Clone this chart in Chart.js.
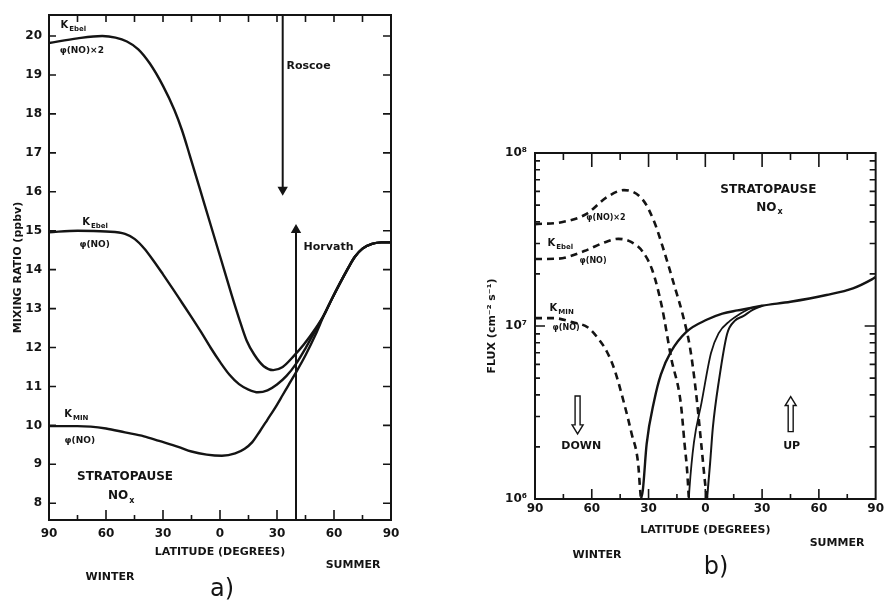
<!DOCTYPE html>
<html>
<head>
<meta charset="utf-8">
<script src="https://cdn.jsdelivr.net/npm/chart.js@4.4.1/dist/chart.umd.min.js"></script>
<style>
  body { margin: 0; background: #fff; width: 887px; height: 604px; position: relative; overflow: hidden; }
  canvas { position: absolute; top: 0; }
  #chartA { left: 0; }
  #chartB { left: 440px; }
</style>
</head>
<body>
<canvas id="chartA" width="430" height="604"></canvas>
<canvas id="chartB" width="447" height="604"></canvas>
<script>
// Latitude runs from 90 winter (-90) through equator (0) to 90 summer (+90)
const latTicks = [-90, -60, -30, 0, 30, 60, 90];

// ---- panel a: NO mixing ratio (ppbv) at the stratopause
const mixTicks = [8, 9, 10, 11, 12, 13, 14, 15, 16, 17, 18, 19, 20];
const latEbel2A = [-90, -75, -62, -55, -49, -43, -37, -30, -24, -20, -16, -8, 0, 6, 10, 14, 18, 23, 28, 33, 39, 44, 50, 55, 59, 67, 71, 75, 80, 85, 90];
const mixEbel2A = [19.82, 19.94, 20.0, 19.96, 19.86, 19.66, 19.3, 18.72, 18.1, 17.58, 16.95, 15.65, 14.35, 13.37, 12.75, 12.18, 11.82, 11.52, 11.42, 11.5, 11.79, 12.07, 12.47, 12.86, 13.26, 14.0, 14.33, 14.54, 14.66, 14.7, 14.7];
const latEbelA = [-90, -75, -60, -50, -45, -40, -35, -30, -25, -20, -15, -10, -5, 0, 5, 10, 15, 20, 25, 30, 35, 40, 45, 50, 55, 59, 67, 71, 75, 80, 85, 90];
const mixEbelA = [14.96, 15.0, 14.98, 14.92, 14.79, 14.55, 14.23, 13.88, 13.52, 13.15, 12.78, 12.4, 12.0, 11.63, 11.3, 11.06, 10.92, 10.85, 10.9, 11.05, 11.27, 11.58, 11.98, 12.42, 12.86, 13.26, 14.0, 14.33, 14.54, 14.66, 14.7, 14.7];
const latMinA = [-90, -75, -60, -50, -40, -32, -22, -15, -7, 1, 8, 13, 17, 21, 25, 29, 33, 36, 40, 45, 50, 55, 59, 67, 71, 75, 80, 85, 90];
const mixMinA = [9.98, 9.98, 9.92, 9.82, 9.72, 9.6, 9.45, 9.33, 9.25, 9.22, 9.28, 9.4, 9.57, 9.85, 10.15, 10.45, 10.78, 11.03, 11.36, 11.8, 12.3, 12.86, 13.26, 14.0, 14.33, 14.54, 14.66, 14.7, 14.7];
// observations drawn as arrows
const roscoeLat = [33, 33];
const roscoeMix = [20.54, 16.05];
const horvathLat = [40, 40];
const horvathMix = [7.57, 15.02];

// ---- panel b: NO flux (cm^-2 s^-1), dashed = downward, solid = upward
const fluxMajor = [1e6, 1e7, 1e8];
const fluxMinor = [2e6, 3e6, 4e6, 5e6, 6e6, 7e6, 8e6, 9e6, 1e7, 2e7, 3e7, 4e7, 5e7, 6e7, 7e7, 8e7, 9e7];
const latEbel2Down = [-90, -76, -63, -52, -43, -33, -27, -22, -16, -12, -8, -5, -2, 0, 1];
const fluxEbel2Down = [3.88e7, 3.98e7, 4.43e7, 5.56e7, 6.1e7, 5.36e7, 4.0e7, 2.75e7, 1.66e7, 1.17e7, 7.4e6, 4.2e6, 2.0e6, 1.2e6, 1e6];
const latEbelDown = [-90, -78, -64, -53, -46, -39, -33, -28, -23, -18, -13, -11, -9.6, -8.7];
const fluxEbelDown = [2.44e7, 2.45e7, 2.71e7, 3.05e7, 3.19e7, 3.05e7, 2.68e7, 2.1e7, 1.3e7, 6.5e6, 3.6e6, 2.1e6, 1.45e6, 1e6];
const latMinDown = [-90, -80, -70, -62, -56, -52, -48, -43, -39, -35.5, -34.5, -34];
const fluxMinDown = [1.11e7, 1.11e7, 1.05e7, 9.8e6, 8.3e6, 7.1e6, 5.6e6, 3.6e6, 2.4e6, 1.6e6, 1.15e6, 1e6];
const latMinUp = [-34, -33, -31, -27, -23.5, -18, -10, 1, 9, 17, 24, 30, 45, 64, 78, 88, 90];
const fluxMinUp = [1e6, 1.13e6, 2.08e6, 3.71e6, 5.24e6, 7.15e6, 9.25e6, 1.09e7, 1.18e7, 1.23e7, 1.27e7, 1.31e7, 1.38e7, 1.51e7, 1.65e7, 1.86e7, 1.92e7];
const latEbelUp = [-8.7, -8.4, -6, -2, 3, 7, 13, 18, 24];
const fluxEbelUp = [1e6, 1.14e6, 2.13e6, 3.61e6, 6.98e6, 9.07e6, 1.07e7, 1.17e7, 1.27e7];
const latEbel2Up = [0.9, 2.5, 4, 7.2, 11.5, 15.5, 20, 25, 30];
const fluxEbel2Up = [1e6, 1.6e6, 2.6e6, 4.85e6, 9.0e6, 1.07e7, 1.14e7, 1.24e7, 1.31e7];

const ink = '#141414';
const FONT = '"DejaVu Sans", "Liberation Sans", sans-serif';
const sup = { 6: '⁶', 7: '⁷', 8: '⁸' };

const pts = (xs, ys) => xs.map((x, i) => ({ x, y: ys[i] }));

function curve(xs, ys, extra) {
  return Object.assign({
    data: pts(xs, ys),
    borderColor: ink,
    borderWidth: 2.4,
    pointRadius: 0,
    fill: false,
    cubicInterpolationMode: 'monotone'
  }, extra || {});
}

// text with an optional subscript, e.g. K_Ebel
function drawText(ctx, x, y, t) {
  const main = `${t.weight || 'bold'} ${t.size}px ${FONT}`;
  const small = `bold ${Math.round(t.size * 0.7)}px ${FONT}`;
  ctx.fillStyle = ink;
  ctx.textBaseline = 'middle';
  ctx.textAlign = 'left';
  ctx.font = main;
  const mainW = ctx.measureText(t.text).width;
  let subW = 0;
  if (t.sub) { ctx.font = small; subW = ctx.measureText(t.sub).width + 1; }
  const left = t.align === 'center' ? x - (mainW + subW) / 2 : x;
  ctx.font = main;
  ctx.fillText(t.text, left, y);
  if (t.sub) { ctx.font = small; ctx.fillText(t.sub, left + mainW + 1, y + t.size * 0.35); }
}

function hollowArrow(ctx, x, yTail, yTip) {
  const dir = Math.sign(yTip - yTail);
  const yBase = yTip - dir * 9;
  ctx.beginPath();
  ctx.moveTo(x - 2.5, yTail);
  ctx.lineTo(x - 2.5, yBase);
  ctx.lineTo(x - 5.5, yBase);
  ctx.lineTo(x, yTip);
  ctx.lineTo(x + 5.5, yBase);
  ctx.lineTo(x + 2.5, yBase);
  ctx.lineTo(x + 2.5, yTail);
  ctx.closePath();
  ctx.lineWidth = 1.4;
  ctx.stroke();
}

// frame, inward tick marks and the annotations of the figure
const framePlugin = {
  id: 'frame',
  afterDraw(chart, args, o) {
    const { ctx, chartArea: a, scales: { x, y } } = chart;
    ctx.save();
    ctx.strokeStyle = ink;
    ctx.lineWidth = 2;
    ctx.strokeRect(a.left, a.top, a.right - a.left, a.bottom - a.top);
    ctx.lineWidth = 1.6;
    ctx.beginPath();
    for (let lat = -75; lat <= 75; lat += 15) {
      const px = x.getPixelForValue(lat);
      const big = lat % 30 === 0;
      ctx.moveTo(px, a.top); ctx.lineTo(px, a.top + (big ? o.topLong : o.topShort));
      ctx.moveTo(px, a.bottom); ctx.lineTo(px, a.bottom - (big ? o.botLong : o.botShort));
    }
    o.yTicks.forEach(v => {
      const py = y.getPixelForValue(v);
      const len = o.yLong && o.yLong.includes(v) ? o.yLen * 2 : o.yLen;
      ctx.moveTo(a.left, py); ctx.lineTo(a.left + len, py);
      ctx.moveTo(a.right, py); ctx.lineTo(a.right - len - 1, py);
    });
    ctx.stroke();
    (o.arrows || []).forEach(r => {
      hollowArrow(ctx, x.getPixelForValue(r.lat), y.getPixelForValue(r.from), y.getPixelForValue(r.to));
    });
    (o.notes || []).forEach(t => drawText(ctx, x.getPixelForValue(t.at[0]), y.getPixelForValue(t.at[1]), t));
    (o.captions || []).forEach(t => drawText(ctx, t.px[0], t.px[1], t));
    ctx.restore();
  }
};

function latAxis(height, pad) {
  return {
    type: 'linear', min: -90, max: 90,
    afterBuildTicks: s => { s.ticks = latTicks.map(v => ({ value: v })); },
    afterFit: s => { s.height = height; },
    grid: { display: false, drawTicks: false },
    border: { display: false },
    ticks: {
      padding: pad, color: ink, maxRotation: 0, autoSkip: false,
      font: { family: FONT, size: 12, weight: 'bold' },
      callback: v => Math.abs(v)
    },
    title: {
      display: true, text: 'LATITUDE (DEGREES)', color: ink, padding: 0,
      font: { family: FONT, size: 11, weight: 'bold' }
    }
  };
}

const common = {
  responsive: false,
  animation: false,
  events: [],
  plugins: { legend: { display: false }, tooltip: { enabled: false } }
};

// ---------------- panel a
new Chart(document.getElementById('chartA'), {
  type: 'line',
  data: {
    datasets: [
      curve(latEbel2A, mixEbel2A),
      curve(latEbelA, mixEbelA),
      curve(latMinA, mixMinA),
      curve(roscoeLat, roscoeMix, { borderWidth: 2, pointStyle: 'triangle', pointRadius: [0, 4], pointRotation: 180, pointBackgroundColor: ink, pointBorderColor: ink, cubicInterpolationMode: 'default' }),
      curve(horvathLat, horvathMix, { borderWidth: 2, pointStyle: 'triangle', pointRadius: [0, 4], pointRotation: 0, pointBackgroundColor: ink, pointBorderColor: ink, cubicInterpolationMode: 'default' })
    ]
  },
  options: Object.assign({}, common, {
    layout: { autoPadding: false, padding: { left: 12, top: 15, right: 39, bottom: 45 } },
    scales: {
      x: latAxis(39, 7),
      y: {
        type: 'linear', min: 7.57, max: 20.54,
        afterBuildTicks: s => { s.ticks = mixTicks.map(v => ({ value: v })); },
        afterFit: s => { s.width = 37; },
        grid: { display: false, drawTicks: false },
        border: { display: false },
        ticks: { padding: 7, color: ink, autoSkip: false, font: { family: FONT, size: 12, weight: 'bold' } },
        title: { display: true, text: 'MIXING RATIO (ppbv)', color: ink, padding: 0, font: { family: FONT, size: 11, weight: 'bold' } }
      }
    },
    plugins: Object.assign({}, common.plugins, {
      frame: {
        topLong: 7, topShort: 7, botLong: 10, botShort: 5, yTicks: mixTicks, yLen: 7,
        notes: [
          { text: 'K', sub: 'Ebel', at: [-84, 20.27], size: 10 },
          { text: 'φ(NO)×2', at: [-84.4, 19.63], size: 9 },
          { text: 'K', sub: 'Ebel', at: [-72.5, 15.21], size: 10 },
          { text: 'φ(NO)', at: [-74, 14.65], size: 9 },
          { text: 'K', sub: 'MIN', at: [-82, 10.28], size: 10 },
          { text: 'φ(NO)', at: [-81.8, 9.61], size: 9 },
          { text: 'STRATOPAUSE', at: [-50, 8.69], size: 12, align: 'center' },
          { text: 'NO', sub: 'x', at: [-52, 8.18], size: 12, align: 'center' },
          { text: 'Roscoe', at: [35, 19.22], size: 11 },
          { text: 'Horvath', at: [44, 14.58], size: 11 }
        ],
        captions: [
          { text: 'WINTER', px: [110, 577], size: 11, align: 'center' },
          { text: 'SUMMER', px: [353, 565], size: 11, align: 'center' },
          { text: 'a)', px: [222, 590], size: 24, weight: 'normal', align: 'center' }
        ]
      }
    })
  }),
  plugins: [framePlugin]
});

// ---------------- panel b
const dashed = { borderDash: [7, 5], borderWidth: 2.6 };
new Chart(document.getElementById('chartB'), {
  type: 'line',
  data: {
    datasets: [
      curve(latEbel2Down, fluxEbel2Down, dashed),
      curve(latEbelDown, fluxEbelDown, dashed),
      curve(latMinDown, fluxMinDown, dashed),
      curve(latMinUp, fluxMinUp, { borderWidth: 2.4 }),
      curve(latEbelUp, fluxEbelUp, { borderWidth: 1.8 }),
      curve(latEbel2Up, fluxEbel2Up, { borderWidth: 2 })
    ]
  },
  options: Object.assign({}, common, {
    layout: { autoPadding: false, padding: { left: 46, top: 153, right: 10, bottom: 67 } },
    scales: {
      x: latAxis(38, 3),
      y: {
        type: 'logarithmic', min: 1e6, max: 1e8,
        afterBuildTicks: s => { s.ticks = fluxMajor.map(v => ({ value: v })); },
        afterFit: s => { s.width = 49; },
        grid: { display: false, drawTicks: false },
        border: { display: false },
        ticks: {
          padding: 8, color: ink, autoSkip: false,
          font: { family: FONT, size: 12, weight: 'bold' },
          callback: v => '10' + sup[Math.round(Math.log10(v))]
        },
        title: { display: true, text: 'FLUX (cm⁻² s⁻¹)', color: ink, padding: 0, font: { family: FONT, size: 11, weight: 'bold' } }
      }
    },
    plugins: Object.assign({}, common.plugins, {
      frame: {
        topLong: 14, topShort: 7, botLong: 10, botShort: 5, yTicks: fluxMinor, yLong: [1e7], yLen: 5,
        arrows: [
          { lat: -67.5, from: 3.94e6, to: 2.38e6 },
          { lat: 45.1, from: 2.45e6, to: 3.91e6 }
        ],
        notes: [
          { text: 'STRATOPAUSE', at: [33.3, 6.15e7], size: 12, align: 'center' },
          { text: 'NO', sub: 'x', at: [33.9, 4.84e7], size: 12, align: 'center' },
          { text: 'φ(NO)×2', at: [-62.9, 4.19e7], size: 8 },
          { text: 'K', sub: 'Ebel', at: [-83.4, 3.0e7], size: 10 },
          { text: 'φ(NO)', at: [-66.5, 2.38e7], size: 8 },
          { text: 'K', sub: 'MIN', at: [-82.3, 1.26e7], size: 10 },
          { text: 'φ(NO)', at: [-80.7, 9.8e6], size: 8 },
          { text: 'DOWN', at: [-65.6, 2.02e6], size: 11, align: 'center' },
          { text: 'UP', at: [45.6, 2.03e6], size: 11, align: 'center' }
        ],
        captions: [
          { text: 'WINTER', px: [157, 555], size: 11, align: 'center' },
          { text: 'SUMMER', px: [397, 543], size: 11, align: 'center' },
          { text: 'b)', px: [276, 568], size: 24, weight: 'normal', align: 'center' }
        ]
      }
    })
  }),
  plugins: [framePlugin]
});
</script>
</body>
</html>
